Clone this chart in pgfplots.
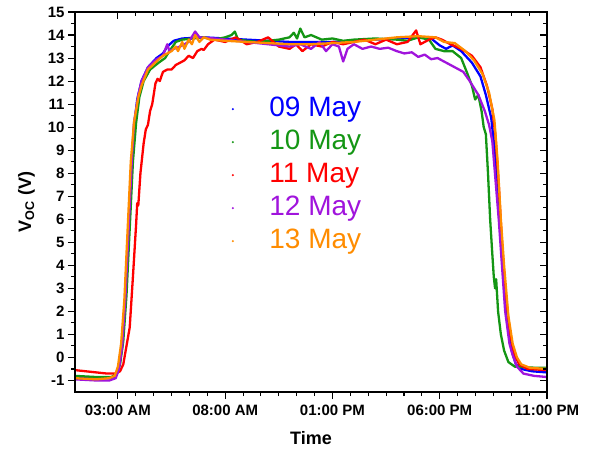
\documentclass[border=0pt]{standalone}
\usepackage{pgfplots}
\pgfplotsset{compat=1.18}
\usepackage{fontspec}
\setmainfont{Liberation Sans}
\definecolor{cBlue}{RGB}{0,0,255}
\definecolor{cGreen}{RGB}{20,150,20}
\definecolor{cRed}{RGB}{255,0,0}
\definecolor{cPurple}{RGB}{160,20,220}
\definecolor{cOrange}{RGB}{255,140,0}
\pgfplotsset{
  frame/.style={
    width=472pt, height=380pt, scale only axis,
    xmin=1, xmax=23, ymin=-1.5, ymax=15,
    xtick={3,8,13,18,23}, minor x tick num=5,
    ytick={-1,0,...,15}, minor y tick num=1,
    axis line style={line width=1.2pt},
    major tick length=7pt, minor tick length=4pt,
    tick style={line width=1.1pt, black},
  },
  vline/.style={line width=2.3pt, line join=round, no markers, forget plot},
  dotkey/.style={legend image code/.code={\path[draw=none, fill=none] (0,0) -- (1.35cm,0); \fill[#1, draw=none] (0.1cm,0) circle (1.2pt);}},
}
\begin{document}
\begin{tikzpicture}
\begin{axis}[
  frame,
  xtick pos=left, ytick pos=left, tick align=outside,
  xticklabels={03:00 AM,08:00 AM,01:00 PM,06:00 PM,11:00 PM},
  tick label style={font=\fontsize{15}{18}\selectfont\bfseries},
  xticklabel shift=2pt,
  /pgf/number format/assume math mode=true,
  xlabel={Time}, ylabel={V\textsubscript{OC} (V)},
  label style={font=\fontsize{18}{22}\selectfont\bfseries},
  xlabel shift=9pt, ylabel shift=6pt,
  legend style={at={(0.328,0.783)}, anchor=north west, draw=none, fill=none,
    inner sep=0pt, row sep=4pt,
    font=\fontsize{28}{32}\selectfont,
    nodes={inner sep=1pt, text height=21pt, text depth=6pt}},
  legend cell align=left,
]
% 09 May
\addplot[vline, cBlue] coordinates {
(1.0,-0.85) (2.0,-0.9) (2.7,-0.9) (2.9,-0.8) (3.05,-0.4) (3.2,0.5) (3.35,2.5) (3.5,5.5) (3.65,8.5)
(3.75,10.0) (3.9,11.2) (4.1,12.0) (4.4,12.6) (4.8,13.0) (5.1,13.2) (5.3,13.5) (5.6,13.75) (6.0,13.85)
(7,13.9) (8,13.85) (9,13.8) (10,13.75) (11,13.7) (12,13.7) (13,13.7) (14,13.75) (15,13.8) (16,13.85)
(17,13.9) (17.6,13.85) (18.0,13.55) (18.3,13.4) (18.6,13.55) (19.0,13.3) (19.5,12.8) (19.9,12.2)
(20.15,11.4) (20.4,10.4) (20.55,9.1) (20.7,7.3) (20.85,5.4) (21.0,3.4) (21.15,1.6) (21.35,0.3)
(21.55,-0.3) (21.8,-0.5) (22.3,-0.6) (23,-0.65)};
% 10 May
\addplot[vline, cGreen] coordinates {
(1.0,-0.8) (2.0,-0.85) (2.7,-0.85) (2.95,-0.7) (3.1,-0.3) (3.25,0.7) (3.4,2.7) (3.55,5.6) (3.7,8.5)
(3.85,10.2) (4.0,11.3) (4.2,12.0) (4.5,12.5) (4.9,12.8) (5.2,13.0) (5.4,13.3) (5.7,13.7) (6.0,13.8)
(6.5,13.85) (7,13.9) (7.5,13.8) (8.0,13.9) (8.3,14.0) (8.45,14.15) (8.6,13.8) (9,13.75) (9.5,13.7)
(10,13.75) (10.5,13.8) (11,13.9) (11.2,14.1) (11.35,13.85) (11.5,14.28) (11.7,13.9) (12,14.0)
(12.5,13.8) (13,13.85) (13.5,13.75) (14,13.8) (15,13.85) (16,13.8) (16.5,13.75) (17,13.9) (17.5,13.8)
(17.8,13.4) (18.2,13.3) (18.6,13.3) (19.0,13.0) (19.3,12.3) (19.5,11.8) (19.65,11.2) (19.8,11.4)
(19.95,10.7) (20.05,10.0) (20.15,9.7) (20.25,8.0) (20.35,6.0) (20.45,4.5) (20.52,3.5) (20.58,3.0)
(20.63,3.4) (20.72,2.0) (20.85,1.0) (21.0,0.3) (21.2,-0.2) (21.5,-0.4) (22.5,-0.45) (23,-0.45)};
% 11 May
\addplot[vline, cRed] coordinates {
(1.0,-0.55) (1.5,-0.6) (2.0,-0.65) (2.5,-0.7) (2.9,-0.7) (3.1,-0.6) (3.25,-0.3) (3.4,0.5) (3.55,1.3)
(3.7,3.5) (3.85,5.8) (3.9,6.7) (3.95,6.6) (4.05,8.0) (4.2,9.3) (4.3,9.9) (4.4,10.1) (4.5,10.7)
(4.6,11.0) (4.75,11.9) (4.85,12.1) (4.95,12.0) (5.1,12.4) (5.3,12.5) (5.5,12.5) (5.7,12.7) (5.9,12.8)
(6.1,12.9) (6.3,13.1) (6.5,13.0) (6.7,13.3) (6.9,13.4) (7.0,13.35) (7.2,13.6) (7.5,13.8) (8,13.7)
(8.5,13.9) (9,13.6) (9.5,13.7) (10,13.9) (10.5,13.5) (11,13.4) (11.3,13.6) (11.6,13.3) (12,13.6)
(12.5,13.5) (13,13.7) (13.5,13.6) (14,13.7) (14.5,13.8) (15,13.6) (15.5,13.8) (16,13.6) (16.5,13.7)
(16.9,14.2) (17.1,13.6) (17.5,13.8) (17.8,13.9) (18.1,13.8) (18.5,13.6) (19,13.4) (19.5,13.1)
(19.9,12.6) (20.2,11.8) (20.45,10.8) (20.6,9.6) (20.75,7.5) (20.9,5.0) (21.05,3.0) (21.25,1.2)
(21.45,0.2) (21.7,-0.3) (22.1,-0.5) (23,-0.55)};
% 12 May
\addplot[vline, cPurple] coordinates {
(1.0,-0.95) (2.0,-1.0) (2.6,-1.0) (2.9,-0.9) (3.05,-0.5) (3.2,0.5) (3.35,2.6) (3.5,5.6) (3.65,8.6)
(3.75,10.2) (3.95,11.4) (4.1,12.0) (4.4,12.6) (4.8,12.95) (5.1,13.1) (5.3,13.6) (5.4,13.3) (5.6,13.4)
(5.9,13.5) (6.3,13.7) (6.6,14.15) (6.8,13.9) (7.5,13.85) (8,13.8) (8.5,13.75) (9,13.7) (9.5,13.65)
(10,13.6) (10.5,13.55) (11,13.5) (11.5,13.6) (12,13.4) (12.4,13.7) (12.7,13.3) (13.0,13.6) (13.3,13.5)
(13.5,12.85) (13.7,13.4) (14,13.6) (14.4,13.4) (14.8,13.5) (15.2,13.4) (15.6,13.45) (16.0,13.3)
(16.35,13.2) (16.7,13.25) (17.0,13.05) (17.3,13.15) (17.6,12.95) (17.9,13.0) (18.2,12.85) (18.5,12.7)
(18.8,12.55) (19.1,12.4) (19.4,12.0) (19.8,11.4) (20.1,10.7) (20.3,10.1) (20.45,9.4) (20.6,7.7)
(20.75,6.0) (20.9,4.0) (21.05,2.0) (21.25,0.6) (21.4,0.1) (21.6,-0.4) (21.9,-0.7) (22.4,-0.8) (23,-0.85)};
% 13 May
\addplot[vline, cOrange] coordinates {
(1.0,-0.9) (2.0,-0.95) (2.6,-0.9) (2.85,-0.8) (3.0,-0.4) (3.15,0.6) (3.3,2.5) (3.45,5.5) (3.6,8.5)
(3.75,10.2) (3.95,11.3) (4.1,11.8) (4.4,12.5) (4.85,12.9) (5.1,13.1) (5.3,13.2) (5.5,13.3) (5.7,13.5)
(5.8,13.3) (6.0,13.7) (6.1,13.4) (6.3,13.8) (6.45,13.6) (6.6,14.0) (6.8,13.7) (7.0,13.9) (7.3,13.8)
(8,13.75) (9,13.7) (10,13.65) (11,13.6) (12,13.6) (13,13.65) (14,13.7) (15,13.8) (16,13.9) (17,13.95)
(17.8,13.9) (18.2,13.7) (18.7,13.65) (19.2,13.3) (19.6,12.9) (20.0,12.3) (20.3,11.5) (20.55,10.3)
(20.7,8.5) (20.85,6.0) (21.0,4.0) (21.2,1.8) (21.4,0.6) (21.6,0.0) (21.8,-0.3) (22.2,-0.45) (23,-0.5)};
\addlegendimage{dotkey=cBlue}
\addlegendentry{\textcolor{cBlue}{09 May}}
\addlegendimage{dotkey=cGreen}
\addlegendentry{\textcolor{cGreen}{10 May}}
\addlegendimage{dotkey=cRed}
\addlegendentry{\textcolor{cRed}{11 May}}
\addlegendimage{dotkey=cPurple}
\addlegendentry{\textcolor{cPurple}{12 May}}
\addlegendimage{dotkey=cOrange}
\addlegendentry{\textcolor{cOrange}{13 May}}
\end{axis}
\begin{axis}[
  frame,
  xtick pos=right, ytick pos=right, tick align=inside,
  xticklabels={}, yticklabels={},
]
\end{axis}
\path (current axis.south west) ++(-75pt,-60pt) rectangle ([shift={(42pt,12pt)}]current axis.north east);
\end{tikzpicture}
\end{document}
